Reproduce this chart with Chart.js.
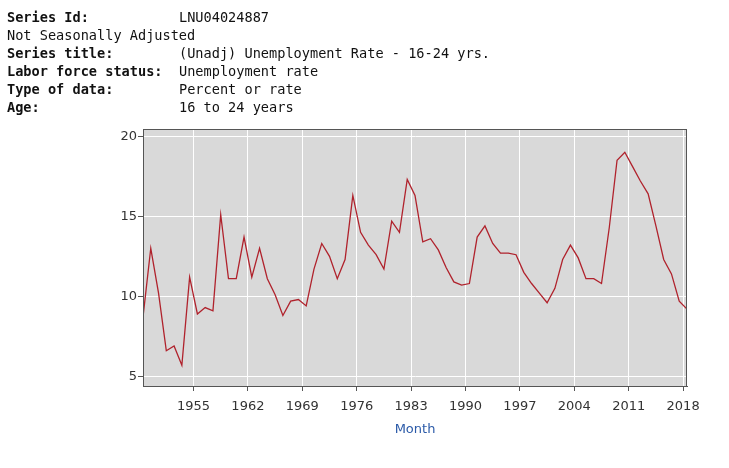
<!DOCTYPE html>
<html>
<head>
<meta charset="utf-8">
<script src="https://cdn.jsdelivr.net/npm/chart.js@4"></script>
<style>
    body { margin: 0; background: #fff; }
    #wrap { position: relative; width: 729px; height: 468px; }
    #chart { position: absolute; left: 0; top: 0; }
    .hdr {
        position: absolute;
        font-family: "DejaVu Sans Mono", monospace;
        font-size: 13.6px;
        line-height: 18px;
        color: #111;
        white-space: pre;
    }
    .lbl { left: 7px; font-weight: bold; }
    .val { left: 179px; }
</style>
</head>
<body>
<div id="wrap">
    <canvas id="chart" width="729" height="468"></canvas>
    <div class="hdr lbl" style="top:8px">Series Id:</div>
    <div class="hdr val" style="top:8px">LNU04024887</div>
    <div class="hdr" style="top:26px; left:7px">Not Seasonally Adjusted</div>
    <div class="hdr lbl" style="top:44px">Series title:</div>
    <div class="hdr val" style="top:44px">(Unadj) Unemployment Rate - 16-24 yrs.</div>
    <div class="hdr lbl" style="top:62px">Labor force status:</div>
    <div class="hdr val" style="top:62px">Unemployment rate</div>
    <div class="hdr lbl" style="top:80px">Type of data:</div>
    <div class="hdr val" style="top:80px">Percent or rate</div>
    <div class="hdr lbl" style="top:98px">Age:</div>
    <div class="hdr val" style="top:98px">16 to 24 years</div>
</div>
<script>
// annual values, 1948 - 2018 (plotted at mid-year)
const firstYear = 1948;
const rates = [
    8.7, 13.0, 10.2, 6.6, 6.9, 5.7, 11.2, 8.9, 9.3, 9.1,
    15.1, 11.1, 11.1, 13.7, 11.2, 13.0, 11.1, 10.1, 8.8, 9.7,
    9.8, 9.4, 11.7, 13.3, 12.5, 11.1, 12.3, 16.3, 14.0, 13.2,
    12.6, 11.7, 14.7, 14.0, 17.3, 16.3, 13.4, 13.6, 12.9, 11.8,
    10.9, 10.7, 10.8, 13.7, 14.4, 13.3, 12.7, 12.7, 12.6, 11.5,
    10.8, 10.2, 9.6, 10.5, 12.3, 13.2, 12.4, 11.1, 11.1, 10.8,
    14.3, 18.5, 19.0, 18.1, 17.2, 16.4, 14.4, 12.3, 11.4, 9.7,
    9.2
];
const xTickYears = [1955, 1962, 1969, 1976, 1983, 1990, 1997, 2004, 2011, 2018];
const yTickValues = [5, 10, 15, 20];

const points = rates.map((v, i) => ({ x: firstYear + i + 0.5, y: v }));

const tickFont = { family: '"DejaVu Sans", Verdana, sans-serif', size: 13 };

const plotFrame = {
    id: 'plotFrame',
    beforeDraw: (chart) => {
        const a = chart.chartArea;
        const ctx = chart.ctx;
        ctx.save();
        ctx.fillStyle = '#d9d9d9';
        ctx.fillRect(a.left, a.top, a.right - a.left, a.bottom - a.top);
        ctx.restore();
    },
    afterDraw: (chart) => {
        const a = chart.chartArea;
        const ctx = chart.ctx;
        ctx.save();
        ctx.strokeStyle = '#555';
        ctx.lineWidth = 1;
        ctx.strokeRect(a.left + 0.5, a.top + 0.5, a.right - a.left - 1, a.bottom - a.top);
        ctx.restore();
    }
};

new Chart(document.getElementById('chart'), {
    type: 'line',
    data: {
        datasets: [{
            label: 'Unemployment rate',
            data: points,
            borderColor: '#b0222c',
            borderWidth: 1.3,
            pointRadius: 0,
            tension: 0,
        }]
    },
    options: {
        responsive: false,
        animation: false,
        layout: { padding: { left: 0, top: 129, right: 42, bottom: 0 } },
        plugins: {
            legend: { display: false },
            tooltip: { enabled: false },
        },
        scales: {
            x: {
                type: 'linear',
                min: firstYear + 0.5,
                max: firstYear + rates.length - 0.5,
                afterBuildTicks: (scale) => {
                    scale.ticks = xTickYears.map(v => ({ value: v }));
                },
                afterFit: (scale) => { scale.height = 82; },
                ticks: {
                    color: '#333',
                    font: tickFont,
                    padding: 8,
                    maxRotation: 0,
                    autoSkip: false,
                    callback: (v) => String(v),
                },
                grid: { color: '#fff', lineWidth: 1, tickColor: '#555', tickLength: 5 },
                border: { color: '#555' },
                title: {
                    display: true,
                    text: 'Month',
                    color: '#2b5aa8',
                    font: tickFont,
                    padding: { top: 0, bottom: 31 },
                },
            },
            y: {
                min: 4.4,
                max: 20.45,
                afterBuildTicks: (scale) => {
                    scale.ticks = yTickValues.map(v => ({ value: v }));
                },
                afterFit: (scale) => { scale.width = 143; },
                ticks: {
                    color: '#333',
                    font: tickFont,
                    padding: 1,
                },
                grid: { color: '#fff', lineWidth: 1, tickColor: '#555', tickLength: 5 },
                border: { color: '#555' },
            },
        },
    },
    plugins: [plotFrame],
});
</script>
</body>
</html>
